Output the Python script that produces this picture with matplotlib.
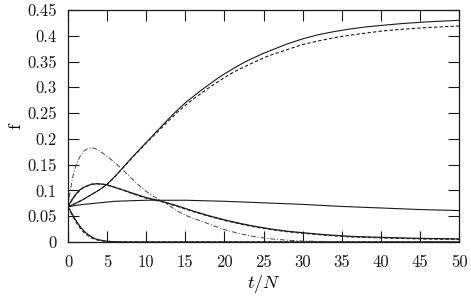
import numpy as np
import matplotlib
matplotlib.use("Agg")
import matplotlib.pyplot as plt

plt.rcParams['font.family'] = 'serif'
plt.rcParams['font.serif'] = ['cmr10']
plt.rcParams['mathtext.fontset'] = 'cm'
plt.rcParams['axes.unicode_minus'] = False

# rising curve (solid) and its dashed companion
t_rise = [0, 1, 2, 3, 4, 5, 6, 7, 8, 9, 10, 11, 12, 13, 14, 15, 16, 17, 18, 19, 20,
          21, 22, 23, 24, 25, 26, 27, 28, 29, 30, 32, 34, 36, 38, 40, 43, 46, 50]
f_rise = [0.068, 0.075, 0.083, 0.092, 0.101, 0.112, 0.127, 0.144, 0.161, 0.177, 0.193,
          0.209, 0.225, 0.241, 0.256, 0.270, 0.282, 0.294, 0.305, 0.316, 0.326,
          0.335, 0.344, 0.352, 0.359, 0.366, 0.372, 0.378, 0.384, 0.389, 0.394,
          0.402, 0.408, 0.413, 0.417, 0.420, 0.424, 0.427, 0.430]
t_rise_d = [0, 2, 4, 5, 6, 7, 8, 9, 10, 11, 12, 13, 14, 15, 16, 17, 18, 19, 20, 21, 22,
            23, 24, 25, 26, 27, 28, 29, 30, 32, 34, 36, 38, 40, 43, 46, 50]
f_rise_d = [0.068, 0.083, 0.101, 0.112, 0.127, 0.143, 0.160, 0.176, 0.192, 0.207, 0.222,
            0.237, 0.252, 0.265, 0.277, 0.288, 0.299, 0.309, 0.319, 0.328, 0.336,
            0.343, 0.350, 0.357, 0.363, 0.368, 0.373, 0.378, 0.383, 0.390, 0.396,
            0.401, 0.405, 0.409, 0.413, 0.416, 0.419]

# hump
t_hump = [0, 0.5, 1, 1.5, 2, 3, 3.7, 4.5, 5, 6, 7, 8, 9, 10, 12, 14, 16, 18, 20, 22,
          24, 26, 28, 30, 33, 36, 40, 45, 50]
f_hump = [0.068, 0.082, 0.093, 0.101, 0.106, 0.112, 0.113, 0.112, 0.111, 0.106, 0.101,
          0.096, 0.091, 0.086, 0.079, 0.070, 0.060, 0.051, 0.043, 0.036,
          0.030, 0.025, 0.021, 0.018, 0.014, 0.011, 0.009, 0.007, 0.006]
f_hump_d = [0.068, 0.081, 0.092, 0.100, 0.106, 0.112, 0.113, 0.112, 0.110, 0.106, 0.101,
            0.095, 0.090, 0.085, 0.078, 0.069, 0.059, 0.050, 0.042, 0.035,
            0.029, 0.024, 0.020, 0.017, 0.013, 0.010, 0.008, 0.006, 0.005]

# nearly flat
t_flat = [0, 1, 2, 4, 6, 8, 10, 12, 15, 20, 25, 30, 35, 40, 45, 50]
f_flat = [0.068, 0.071, 0.073, 0.076, 0.079, 0.080, 0.081, 0.081, 0.081, 0.079,
          0.076, 0.073, 0.069, 0.066, 0.063, 0.061]

# fast decay (solid + dashed)
t_fast = [0, 0.25, 0.5, 1, 1.5, 2, 2.5, 3, 3.5, 4, 5, 6, 8, 50]
f_fast = [0.068, 0.062, 0.055, 0.042, 0.031, 0.022, 0.015, 0.010, 0.006, 0.004,
          0.0015, 0.0005, 0, 0]
f_fast_d = [0.068, 0.060, 0.053, 0.039, 0.028, 0.019, 0.013, 0.008, 0.005, 0.003,
            0.001, 0.0003, 0, 0]

# dash-dot peak
t_peak = [0, 0.25, 0.5, 0.75, 1, 1.5, 2, 2.5, 3, 3.5, 4, 5, 6, 7, 8, 9, 10, 11, 12,
          13, 14, 15, 16, 17, 18, 20, 22, 24, 26, 28, 30, 33, 36, 50]
f_peak = [0.068, 0.095, 0.118, 0.135, 0.148, 0.165, 0.176, 0.181, 0.183, 0.181, 0.177,
          0.166, 0.154, 0.140, 0.125, 0.111, 0.098, 0.088, 0.080, 0.070, 0.060, 0.052,
          0.046, 0.041, 0.035, 0.024, 0.016, 0.010, 0.006, 0.0035, 0.002, 0.001, 0, 0]

xticks = [0, 5, 10, 15, 20, 25, 30, 35, 40, 45, 50]
yticks = [0, 0.05, 0.1, 0.15, 0.2, 0.25, 0.3, 0.35, 0.4, 0.45]
ylabels = ['0', '0.05', '0.1', '0.15', '0.2', '0.25', '0.3', '0.35', '0.4', '0.45']

fig = plt.figure(figsize=(4.71, 2.99), dpi=100)
ax = fig.add_axes([0.1444, 0.1906, 0.8301, 0.776])

lc = '#1a1a1a'
ax.plot(t_rise, f_rise, color=lc, lw=0.8)
ax.plot(t_rise_d, f_rise_d, color=lc, lw=0.8, dashes=(3, 2))
ax.plot(t_hump, f_hump, color=lc, lw=0.9)
ax.plot(t_hump, f_hump_d, color=lc, lw=0.8, dashes=(3, 2))
ax.plot(t_flat, f_flat, color=lc, lw=0.8)
ax.plot(t_fast, f_fast, color=lc, lw=0.9)
ax.plot(t_fast, f_fast_d, color=lc, lw=0.8, dashes=(3, 2))
ax.plot(t_peak, f_peak, color='#444444', lw=0.7, dashes=(5, 2, 1, 2))

ax.set_xlim(0, 50)
ax.set_ylim(0, 0.45)
ax.set_xticks(xticks)
ax.set_xticklabels([str(v) for v in xticks])
ax.set_yticks(yticks)
ax.set_yticklabels(ylabels)
ax.tick_params(direction='in', length=8, width=0.8, top=True, right=True,
               labelsize=12, colors='#1a1a1a')
ax.tick_params(axis='x', pad=9)
ax.tick_params(axis='y', pad=8)
for s in ax.spines.values():
    s.set_linewidth(0.9)
    s.set_color('#1a1a1a')

ax.set_xlabel('$t/N$', fontsize=13, labelpad=2)
ax.set_ylabel('f', fontsize=13, labelpad=3)

fig.savefig('out.png', dpi=100)
